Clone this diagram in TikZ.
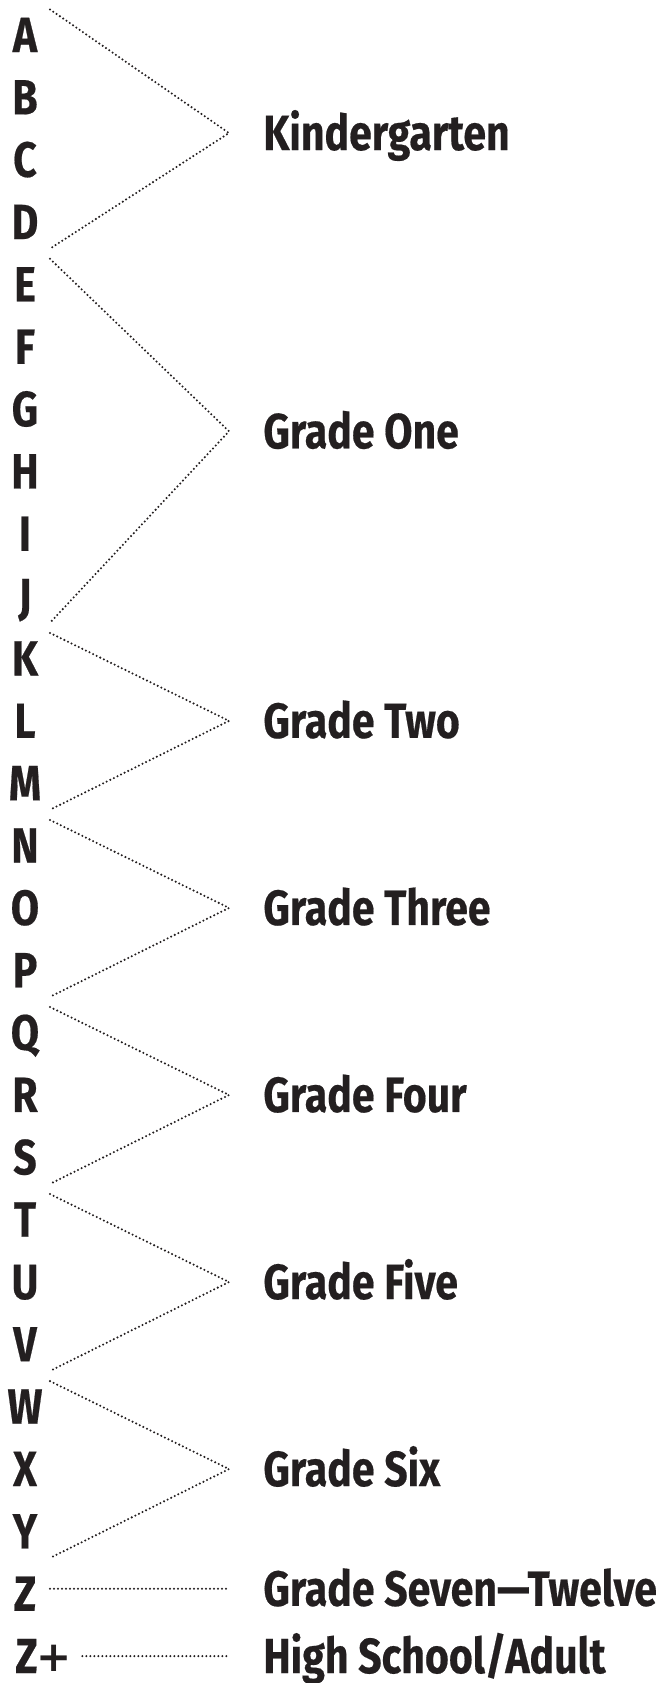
\documentclass[tikz,border=0pt]{standalone}
\usepackage{fontspec}
\setmainfont{Fira Sans}[FakeStretch=0.83,FakeBold=0.4]
\newfontfamily\plusfont{DejaVu Sans}
\usetikzlibrary{calc}
\definecolor{inkdark}{HTML}{231F20}
\tikzset{
  letter/.style={font=\fontsize{24.7}{26}\selectfont\bfseries,text=inkdark,
                 inner sep=0pt,minimum height=31.175pt,text height=17pt,text depth=0pt},
  grade/.style={font=\fontsize{24.7}{26}\selectfont\bfseries,text=inkdark,anchor=west,
                inner xsep=17pt,inner ysep=0pt,text height=17pt,text depth=0pt},
  dotline/.style={draw=inkdark,line width=1.15pt,line cap=round,dash pattern=on 0pt off 2pt},
}
\newcommand{\bigplus}{\kern-0.5pt\raisebox{1pt}{\plusfont\bfseries\fontsize{21}{21}\selectfont +}}

\begin{document}
\begin{tikzpicture}
\useasboundingbox (0,0) rectangle (329.5pt,-841.5pt);

% letter column
\foreach \l [count=\i from 0] in {A,...,Z}
  \node[letter] (l\l) at (12.5pt,{-17.5pt-\i*31.175pt}) {\l};
\node[letter,anchor=west] (lZp) at (7.5pt,{-17.5pt-26*31.175pt}) {Z\bigplus};

% grade groups
\foreach \a/\b/\n/\s/\t in {A/D/kg/-2.25pt/Kindergarten, E/J/one/4.5pt/Grade One,
    K/M/two/0pt/Grade Two, N/P/three/0pt/Grade Three, Q/S/four/0pt/Grade Four,
    T/V/five/0pt/Grade Five, W/Y/six/0pt/Grade Six} {
  \node[grade] (g\n) at ($(l\a.north)!0.5!(l\b.south)+(102pt,\s)$) {\t};
  \draw[dotline] ([xshift=12.5pt,yshift=-3pt]l\a.north) -- (g\n.west)
                 -- ([xshift=12.5pt,yshift=2.5pt]l\b.south);
}

% single rows
\node[grade] (gseven) at ($(lZ)+(102pt,2.5pt)$) {Grade Seven\textemdash Twelve};
\node[grade] (ghigh) at ($(lZ.center |- lZp.west)+(102pt,0)$) {High School/Adult};
\draw[dotline] ([xshift=12.5pt]lZ.center |- gseven.west) -- (gseven.west);
\draw[dotline] ([xshift=5pt]lZp.east) -- (ghigh.west);

\end{tikzpicture}
\end{document}
